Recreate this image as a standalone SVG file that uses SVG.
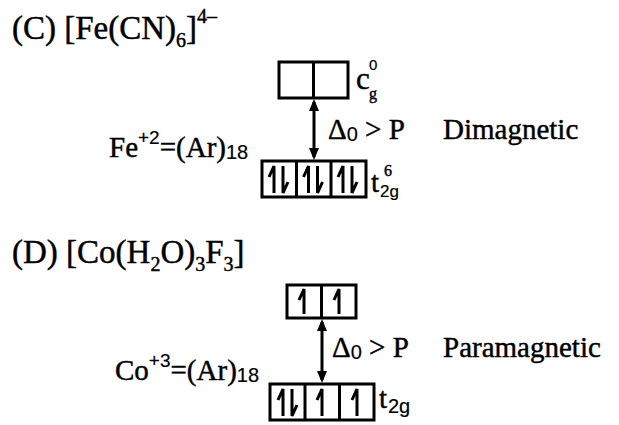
<svg xmlns="http://www.w3.org/2000/svg" width="619" height="425" viewBox="0 0 619 425">
<defs>
<style>
.bg{fill:#fff}
.box{fill:none;stroke:#000;stroke-width:3}
.e{fill:none;stroke:#000;stroke-width:3;stroke-linejoin:miter}
.con{stroke:#000;stroke-width:3;fill:none}
text{font-family:"Liberation Serif","Times New Roman",serif;fill:#000;stroke:#000;stroke-width:0.45}
.sans{font-family:"Liberation Sans",Arial,sans-serif;stroke-width:0.2}
</style>
<marker id="ah" viewBox="0 0 12 10" refX="9" refY="5" markerWidth="12" markerHeight="10" markerUnits="userSpaceOnUse" orient="auto-start-reverse">
<path d="M0,0 L12,5 L0,10 z" fill="#000"/>
</marker>
</defs>
<rect class="bg" x="0" y="0" width="619" height="425"/>

<g id="titleC">
<text x="12" y="39" font-size="33">(C) [Fe(CN)<tspan font-size="20" dy="8">6</tspan><tspan dy="-8">]</tspan><tspan font-size="20" dy="-16">4–</tspan></text>
</g>

<g id="eg-C">
<rect class="box" x="279" y="62" width="69" height="36"/>
<line class="box" x1="313.5" y1="62" x2="313.5" y2="98"/>
<text x="356" y="89" font-size="31">c</text>
<text x="369" y="70" font-size="15" class="sans">0</text>
<text x="369" y="99" font-size="16">g</text>
</g>

<g id="t2g-C">
<rect class="box" x="262" y="161" width="104" height="36"/>
<line class="box" x1="296.5" y1="161" x2="296.5" y2="197"/>
<line class="box" x1="331" y1="161" x2="331" y2="197"/>
<path class="e" d="M274,193 V166 L269,177 M283,166 V193 L288,182"/>
<path class="e" d="M308.5,193 V166 L303.5,177 M317.5,166 V193 L322.5,182"/>
<path class="e" d="M343,193 V166 L338,177 M352,166 V193 L357,182"/>
<text x="371" y="192" font-size="29">t</text>
<text x="384" y="176" font-size="16">6</text>
<text x="380" y="197" font-size="17" class="sans">2g</text>
</g>

<g id="labelsC">
<text x="109" y="157" font-size="29">Fe<tspan class="sans" font-size="19" dy="-13">+2</tspan><tspan dy="13">=(Ar)</tspan><tspan class="sans" font-size="20" dy="2">18</tspan></text>
<text x="328" y="139" font-size="29">Δ<tspan class="sans" font-size="20" dy="2">0</tspan><tspan dy="-2"> &gt; P</tspan></text>
<text x="443" y="139" font-size="29">Dimagnetic</text>
</g>

<g id="titleD">
<text x="12" y="263" font-size="33">(D) [Co(H<tspan font-size="20" dy="8">2</tspan><tspan dy="-8">O)</tspan><tspan font-size="20" dy="8">3</tspan><tspan dy="-8">F</tspan><tspan font-size="20" dy="8">3</tspan><tspan dy="-8">]</tspan></text>
</g>

<g id="eg-D">
<rect class="box" x="287" y="285" width="69" height="33"/>
<line class="box" x1="321.5" y1="285" x2="321.5" y2="318"/>
<path class="e" d="M304,314 V289 L299,300"/>
<path class="e" d="M339,314 V289 L334,300"/>
</g>

<g id="t2g-D">
<rect class="box" x="270" y="384" width="104" height="36"/>
<line class="box" x1="305" y1="384" x2="305" y2="420"/>
<line class="box" x1="339.5" y1="384" x2="339.5" y2="420"/>
<path class="e" d="M283,416 V389 L278,400 M292,389 V416 L297,405"/>
<path class="e" d="M322,416 V389 L317,400"/>
<path class="e" d="M357,416 V389 L352,400"/>
<text x="379" y="408" font-size="29">t</text>
<text x="388" y="413" font-size="20" class="sans">2g</text>
</g>

<g id="labelsD">
<text x="115" y="380" font-size="29">Co<tspan class="sans" font-size="19" dy="-13">+3</tspan><tspan dy="13">=(Ar)</tspan><tspan class="sans" font-size="20" dy="2">18</tspan></text>
<text x="332" y="357" font-size="29">Δ<tspan class="sans" font-size="20" dy="2">0</tspan><tspan dy="-2"> &gt; P</tspan></text>
<text x="443" y="357" font-size="29">Paramagnetic</text>
</g>

<g id="connectors">
<line class="con" x1="314" y1="102" x2="314" y2="157" marker-start="url(#ah)" marker-end="url(#ah)"/>
<line class="con" x1="322" y1="322" x2="322" y2="380" marker-start="url(#ah)" marker-end="url(#ah)"/>
</g>
</svg>
